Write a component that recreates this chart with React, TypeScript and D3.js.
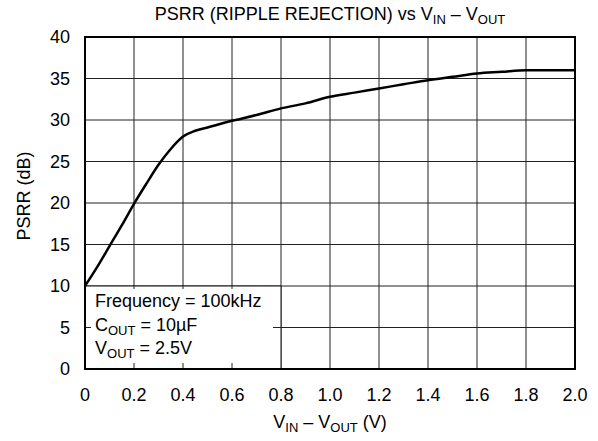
import { useEffect, useRef } from "react";
import * as d3 from "d3";

// PSRR vs headroom
const vDrop = [0, 0.05, 0.1, 0.15, 0.2, 0.25, 0.3, 0.35, 0.4, 0.45, 0.5, 0.6, 0.7, 0.8, 0.9, 1.0, 1.1, 1.2, 1.3, 1.4, 1.5, 1.6, 1.7, 1.8, 1.9, 2.0];
const psrr = [10, 12.3, 14.8, 17.3, 19.9, 22.3, 24.6, 26.5, 28.0, 28.7, 29.1, 29.9, 30.6, 31.4, 32.0, 32.8, 33.3, 33.8, 34.3, 34.8, 35.2, 35.6, 35.8, 36.0, 36.0, 36.0];
const xTicks = [0, 0.2, 0.4, 0.6, 0.8, 1.0, 1.2, 1.4, 1.6, 1.8, 2.0];
const yTicks = [0, 5, 10, 15, 20, 25, 30, 35, 40];

const W = 598;
const H = 441;
const FONT = "Arial, 'Liberation Sans', sans-serif";
const FS = 18;
const SUB = 13;

const App = () => {
  const svgRef = useRef(null);

  useEffect(() => {
    const svg = d3.select(svgRef.current);
    svg.selectAll("*").remove();

    const x = d3.scaleLinear().domain([0, 2]).range([85, 575]);
    const y = d3.scaleLinear().domain([0, 40]).range([369, 37]);
    const g = svg.append("g");

    // grid
    g.selectAll(".vgrid")
      .data(xTicks)
      .join("line")
      .attr("x1", (d) => x(d))
      .attr("x2", (d) => x(d))
      .attr("y1", y(40))
      .attr("y2", y(0))
      .attr("stroke", "#222")
      .attr("stroke-width", 1);
    g.selectAll(".hgrid")
      .data(yTicks)
      .join("line")
      .attr("x1", x(0))
      .attr("x2", x(2))
      .attr("y1", (d) => y(d))
      .attr("y2", (d) => y(d))
      .attr("stroke", "#222")
      .attr("stroke-width", 1);

    // annotation box covers the lower-left grid
    g.append("rect")
      .attr("x", x(0))
      .attr("y", y(10))
      .attr("width", x(0.8) - x(0))
      .attr("height", y(0) - y(10))
      .attr("fill", "#fff")
      .attr("stroke", "#111")
      .attr("stroke-width", 1);

    // inward tick stubs inside the box
    const inner = xTicks.filter((d) => d > 0 && d < 0.8);
    g.selectAll(".btick")
      .data(inner)
      .join("line")
      .attr("x1", (d) => x(d))
      .attr("x2", (d) => x(d))
      .attr("y1", y(0))
      .attr("y2", y(0) - 6)
      .attr("stroke", "#222");
    g.selectAll(".ttick")
      .data(inner)
      .join("line")
      .attr("x1", (d) => x(d))
      .attr("x2", (d) => x(d))
      .attr("y1", y(10))
      .attr("y2", y(10) + 3)
      .attr("stroke", "#222");
    g.append("line")
      .attr("x1", x(0))
      .attr("x2", x(0) + 6)
      .attr("y1", y(5))
      .attr("y2", y(5))
      .attr("stroke", "#222");
    g.append("line")
      .attr("x1", x(0.8) - 8)
      .attr("x2", x(0.8))
      .attr("y1", y(5))
      .attr("y2", y(5))
      .attr("stroke", "#222");

    // frame
    g.append("rect")
      .attr("x", x(0))
      .attr("y", y(40))
      .attr("width", x(2) - x(0))
      .attr("height", y(0) - y(40))
      .attr("fill", "none")
      .attr("stroke", "#000")
      .attr("stroke-width", 2);

    // curve
    const line = d3
      .line()
      .x((d) => x(d[0]))
      .y((d) => y(d[1]))
      .curve(d3.curveMonotoneX);
    g.append("path")
      .datum(vDrop.map((v, i) => [v, psrr[i]]))
      .attr("d", line)
      .attr("fill", "none")
      .attr("stroke", "#000")
      .attr("stroke-width", 2.5);

    // tick labels
    g.selectAll(".xl")
      .data(xTicks)
      .join("text")
      .attr("x", (d) => x(d))
      .attr("y", 401)
      .attr("text-anchor", "middle")
      .attr("font-family", FONT)
      .attr("font-size", FS)
      .text((d) => (d === 0 ? "0" : d.toFixed(1)));
    g.selectAll(".yl")
      .data(yTicks)
      .join("text")
      .attr("x", 70)
      .attr("y", (d) => y(d) + 6)
      .attr("text-anchor", "end")
      .attr("font-family", FONT)
      .attr("font-size", FS)
      .text((d) => d);

    // title
    const title = svg
      .append("text")
      .attr("x", 330)
      .attr("y", 20)
      .attr("text-anchor", "middle")
      .attr("font-family", FONT)
      .attr("font-size", FS);
    title.append("tspan").text("PSRR (RIPPLE REJECTION) vs V");
    title.append("tspan").attr("font-size", SUB).attr("dy", 4).text("IN");
    title.append("tspan").attr("dy", -4).text(" – V");
    title.append("tspan").attr("font-size", SUB).attr("dy", 4).text("OUT");

    // x axis title
    const xt = svg
      .append("text")
      .attr("x", 330)
      .attr("y", 428)
      .attr("text-anchor", "middle")
      .attr("font-family", FONT)
      .attr("font-size", FS);
    xt.append("tspan").text("V");
    xt.append("tspan").attr("font-size", SUB).attr("dy", 4).text("IN");
    xt.append("tspan").attr("dy", -4).text(" – V");
    xt.append("tspan").attr("font-size", SUB).attr("dy", 4).text("OUT");
    xt.append("tspan").attr("dy", -4).text(" (V)");

    // y axis title
    svg
      .append("text")
      .attr("transform", `translate(30,196) rotate(-90)`)
      .attr("text-anchor", "middle")
      .attr("font-family", FONT)
      .attr("font-size", FS)
      .text("PSRR (dB)");

    // conditions
    const notes = svg
      .append("g")
      .attr("font-family", FONT)
      .attr("font-size", FS);
    notes.append("text").attr("x", 95).attr("y", 307).text("Frequency = 100kHz");
    const c = notes.append("text").attr("x", 95).attr("y", 331);
    c.append("tspan").text("C");
    c.append("tspan").attr("font-size", SUB).attr("dy", 4).text("OUT");
    c.append("tspan").attr("dy", -4).text(" = 10µF");
    const v = notes.append("text").attr("x", 95).attr("y", 354);
    v.append("tspan").text("V");
    v.append("tspan").attr("font-size", SUB).attr("dy", 4).text("OUT");
    v.append("tspan").attr("dy", -4).text(" = 2.5V");
  }, []);

  return (
    <svg
      ref={svgRef}
      width={W}
      height={H}
      style={{ position: "absolute", left: 0, top: 0, background: "#fff" }}
    ></svg>
  );
};

export default App;
